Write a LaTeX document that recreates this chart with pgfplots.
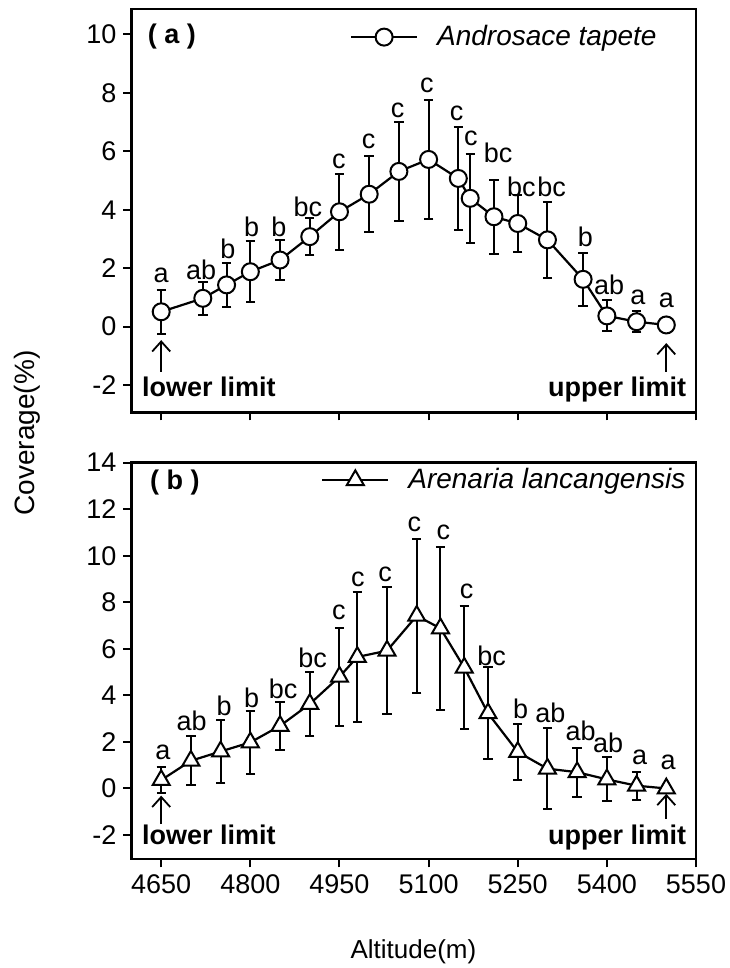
\documentclass[border=0pt]{standalone}
\usepackage{fontspec}
\setmainfont{Liberation Sans}
\usepackage{pgfplots}
\pgfplotsset{compat=1.18}
\usepackage{pgfplotstable}
\usetikzlibrary{arrows.meta}

\newcommand{\fs}{\fontsize{13.5}{16}\selectfont}

\pgfplotstableread{
x y e
4650 0.51 0.76
4720 0.97 0.56
4760 1.43 0.74
4800 1.88 1.05
4850 2.28 0.67
4900 3.08 0.63
4950 3.93 1.30
5000 4.53 1.30
5050 5.31 1.68
5100 5.72 2.04
5150 5.07 1.76
5170 4.39 1.53
5210 3.76 1.26
5250 3.53 0.98
5300 2.97 1.30
5360 1.62 0.90
5400 0.37 0.53
5450 0.17 0.35
5500 0.06 0
}\dataA

\pgfplotstableread{
x y lab
4650 1.77 a
4717 1.94 ab
4762 2.65 b
4802 3.42 b
4848 3.42 b
4897 4.10 bc
4949 5.65 c
4999 6.33 c
5048 7.41 c
5097 8.24 c
5147 7.30 c
5171 6.44 c
5217 5.93 bc
5256 4.79 bc
5307 4.79 bc
5364 3.08 b
5404 1.42 ab
5452 1.02 a
5500 0.91 a
}\labA

\pgfplotstableread{
x y e
4650 0.36 0.57
4700 1.19 1.06
4750 1.59 1.36
4800 1.98 1.35
4850 2.69 1.02
4900 3.63 1.39
4950 4.80 2.10
4980 5.65 2.80
5030 5.92 2.72
5080 7.42 3.32
5120 6.88 3.50
5160 5.19 2.64
5200 3.23 1.97
5250 1.57 1.20
5300 0.85 1.73
5350 0.70 1.06
5400 0.39 0.95
5450 0.12 0.60
5500 0.00 0
}\dataB

\pgfplotstableread{
x y lab
4653 1.55 a
4701 2.91 ab
4756 3.55 b
4802 3.88 b
4855 4.27 bc
4905 5.63 bc
4949 7.57 c
4981 9.00 c
5027 9.21 c
5076 11.36 c
5125 11.00 c
5164 8.48 c
5206 5.70 bc
5255 3.41 b
5305 3.27 ab
5356 2.48 ab
5402 1.98 ab
5455 1.33 a
5503 1.12 a
}\labB

\pgfplotsset{
  panel/.style={
    scale only axis,
    width=282.25pt,
    xmin=4600, xmax=5550,
    xtick={4650,4800,4950,5100,5250,5400,5550},
    scaled ticks=false,
    /pgf/number format/1000 sep={},
    /pgf/number format/assume math mode=true,
    tick align=outside,
    tick pos=left,
    major tick length=4pt,
    every tick/.style={black, line width=1pt},
    axis line style={line width=1.2pt},
    tick label style={font=\fs},
    clip=false,
    legend style={draw=none, fill=none, font=\fontsize{14}{16}\selectfont\itshape, inner sep=0pt},
    legend image code/.code={\path[draw=none, fill=none] (0pt,0pt) -- (41pt,0pt);
      \draw[mark repeat=2,mark phase=2,##1] plot coordinates {(0pt,0pt)(16.5pt,0pt)(33pt,0pt)};},
  },
  lettrs/.style={forget plot, draw=none, mark=none, nodes near coords,
    point meta=explicit symbolic, nodes near coords align={center},
    every node near coord/.append style={anchor=center, font=\fs, inner sep=0pt, black}},
  ebars/.style={error bars/.cd, y dir=both, y explicit,
    error bar style={line width=1pt, black},
    error mark options={rotate=90, mark size=2.35pt, line width=1pt, black}},
}

\begin{document}
\begin{tikzpicture}
\useasboundingbox (0,0) rectangle (364.5pt,484pt);

% top panel
\begin{axis}[panel,
  at={(65.75pt,277.75pt)}, anchor=south west,
  height=201.6pt,
  ymin=-2.934, ymax=10.855,
  ytick={-2,0,2,4,6,8,10},
  xticklabels={},
  legend style={at={(0.938,0.931)}, anchor=east},
]
\addplot[black, line width=1.1pt, mark=*, mark size=4.25pt,
  mark options={fill=white, draw=black, line width=1pt}, ebars]
  table[x=x, y=y, y error=e] {\dataA};
\addlegendentry{Androsace tapete}
\addplot[lettrs] table[x=x, y=y, meta=lab] {\labA};
\draw[line width=0.9pt, -{Straight Barb[length=5pt,width=9pt]}] (axis cs:4650,-1.54) -- (axis cs:4650,-0.46);
\draw[line width=0.9pt, -{Straight Barb[length=5pt,width=9pt]}] (axis cs:5500,-1.54) -- (axis cs:5500,-0.56);
\node[anchor=base west, inner sep=0pt, font=\fs\bfseries] at (axis cs:4617,-2.39) {lower limit};
\node[anchor=base east, inner sep=0pt, font=\fs\bfseries] at (axis cs:5534,-2.39) {upper limit};
\node[anchor=center, inner sep=0pt, font=\fs\bfseries] at (axis cs:4668,9.91) {( a )};
\end{axis}

% bottom panel
\begin{axis}[panel,
  at={(65.75pt,54.35pt)}, anchor=south west,
  height=198.3pt,
  ymin=-3.044, ymax=14,
  ytick={-2,0,2,4,6,8,10,12,14},
  legend style={at={(0.989,0.956)}, anchor=east},
]
\addplot[black, line width=1.1pt, mark=triangle*, mark size=4.9pt,
  mark options={fill=white, draw=black, line width=1pt}, ebars]
  table[x=x, y=y, y error=e] {\dataB};
\addlegendentry{Arenaria lancangensis}
\addplot[lettrs] table[x=x, y=y, meta=lab] {\labB};
\draw[line width=0.9pt, -{Straight Barb[length=5pt,width=9pt]}] (axis cs:4650,-1.53) -- (axis cs:4650,-0.31);
\draw[line width=0.9pt, -{Straight Barb[length=5pt,width=9pt]}] (axis cs:5500,-1.30) -- (axis cs:5500,-0.23);
\node[anchor=base west, inner sep=0pt, font=\fs\bfseries] at (axis cs:4617,-2.39) {lower limit};
\node[anchor=base east, inner sep=0pt, font=\fs\bfseries] at (axis cs:5534,-2.39) {upper limit};
\node[anchor=center, inner sep=0pt, font=\fs\bfseries] at (axis cs:4673,13.15) {( b )};
\end{axis}

\node[rotate=90, anchor=center, inner sep=0pt, font=\fontsize{14}{16}\selectfont] at (13.5pt,267.5pt) {Coverage(\%)};
\node[anchor=center, inner sep=0pt, font=\fontsize{13}{15}\selectfont] at (206.7pt,8pt) {Altitude(m)};
\end{tikzpicture}
\end{document}
